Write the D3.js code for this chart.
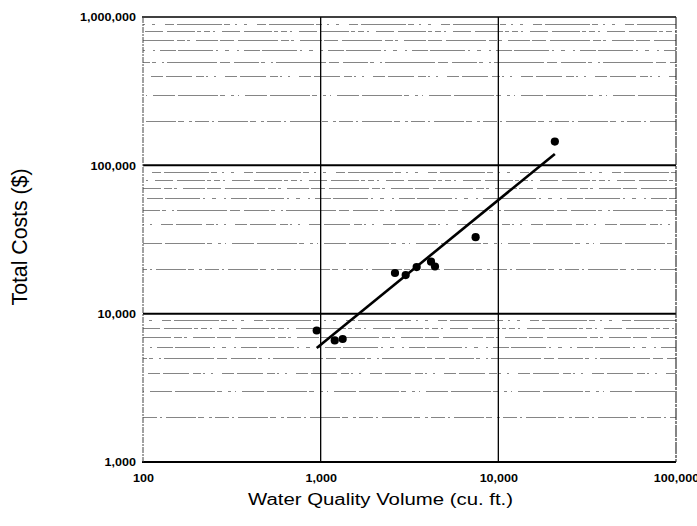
<!DOCTYPE html>
<html>
<head>
<meta charset="utf-8">
<script src="https://cdn.jsdelivr.net/npm/d3@7"></script>
<style>
  html, body { margin: 0; padding: 0; background: #fff; }
  svg { display: block; }
</style>
</head>
<body>
<svg id="chart" width="697" height="526"></svg>
<script>
// ---- data ----
const volume = [950, 1200, 1330, 2620, 3010, 3470, 4180, 4400, 7450, 20800];
const totalCost = [7700, 6600, 6750, 18800, 18200, 20600, 22400, 20800, 32800, 144500];
const trendVolume = [950, 20800];
const trendCost = [5860, 119400];
const xTickValues = [100, 1000, 10000, 100000];
const yTickValues = [1000, 10000, 100000, 1000000];
const xTitle = "Water Quality Volume (cu. ft.)";
const yTitle = "Total Costs ($)";

// ---- layout ----
const svg = d3.select("#chart");
const L = 143, R = 676, T = 17, B = 462;

const x = d3.scaleLog().domain([100, 100000]).range([L, R]);
const y = d3.scaleLog().domain([1000, 1000000]).range([B, T]);

const dashPatterns = [
  "14,3,2,4,30,2,6,5,3,3",
  "3,4,1,6,22,3,40,2,5,6",
  "2,6,2,9,12,3,26,4,8,2",
  "25,2,4,6,2,3,50,3,10,4",
  "4,8,2,5,16,2,35,3,2,7",
  "40,3,8,2,3,6,22,2,14,4",
  "6,3,2,7,18,4,28,2,4,3",
  "2,7,3,10,9,3,45,2,6,5"
];

// minor horizontal grid lines
const minor = y.ticks().filter(v => !yTickValues.includes(v));
svg.append("g").selectAll("line").data(minor).join("line")
  .attr("x1", L).attr("x2", R)
  .attr("y1", d => Math.round(y(d)) + 0.5).attr("y2", d => Math.round(y(d)) + 0.5)
  .attr("stroke", "#333").attr("stroke-opacity", 0.6).attr("stroke-width", 1)
  .attr("stroke-dasharray", (d, i) => dashPatterns[i % dashPatterns.length])
  .attr("stroke-dashoffset", (d, i) => (i * 7) % 23);

// major horizontal grid lines
svg.append("g").selectAll("line").data([10000, 100000]).join("line")
  .attr("x1", L).attr("x2", R)
  .attr("y1", d => y(d)).attr("y2", d => y(d))
  .attr("stroke", "#000").attr("stroke-width", 2);

// vertical grid lines
svg.append("g").selectAll("line").data([1000, 10000]).join("line")
  .attr("x1", d => x(d)).attr("x2", d => x(d))
  .attr("y1", T).attr("y2", B)
  .attr("stroke", "#000").attr("stroke-width", 1.3);

// border
svg.append("line").attr("x1", L - 1).attr("x2", R).attr("y1", T).attr("y2", T)
  .attr("stroke", "#000").attr("stroke-width", 1.6);
svg.append("line").attr("x1", L - 1).attr("x2", R).attr("y1", B).attr("y2", B)
  .attr("stroke", "#000").attr("stroke-width", 2);
svg.append("line").attr("x1", L).attr("x2", L).attr("y1", T).attr("y2", B)
  .attr("stroke", "#444").attr("stroke-width", 1).attr("stroke-dasharray", "6,1,2,1");
svg.append("line").attr("x1", R).attr("x2", R).attr("y1", T).attr("y2", B)
  .attr("stroke", "#222").attr("stroke-width", 1.1).attr("stroke-dasharray", "12,1,3,1");

// axes
function stretch(sel, k) {
  sel.each(function () {
    const w = this.getComputedTextLength();
    d3.select(this).attr("textLength", w * k).attr("lengthAdjust", "spacingAndGlyphs");
  });
}
const fmt = d3.format(",");
const yAxis = svg.append("g").attr("transform", `translate(${L},0)`)
  .call(d3.axisLeft(y).tickValues(yTickValues).tickFormat(fmt).tickSize(0).tickPadding(7));
const xAxis = svg.append("g").attr("transform", `translate(0,${B})`)
  .call(d3.axisBottom(x).tickValues(xTickValues).tickFormat(fmt).tickSize(0).tickPadding(13));
[yAxis, xAxis].forEach(g => {
  g.select(".domain").remove();
  g.selectAll("text")
    .attr("font-family", "Liberation Sans, Arial, sans-serif")
    .attr("font-size", 10.3).attr("font-weight", "bold").attr("fill", "#000");
});
yAxis.selectAll("text").attr("dy", "0.36em");
stretch(yAxis.selectAll("text"), 1.22);
stretch(xAxis.selectAll("text"), 1.22);

// trend line
const line = d3.line().x(d => x(d[0])).y(d => y(d[1]));
svg.append("path")
  .datum(trendVolume.map((v, i) => [v, trendCost[i]]))
  .attr("d", line).attr("fill", "none")
  .attr("stroke", "#000").attr("stroke-width", 2.6);

// points
svg.append("g").selectAll("circle")
  .data(volume.map((v, i) => [v, totalCost[i]]))
  .join("circle")
  .attr("cx", d => x(d[0])).attr("cy", d => y(d[1])).attr("r", 4.1)
  .attr("fill", "#000");

// titles
const xt = svg.append("text")
  .attr("x", (L + R) / 2 - 29).attr("y", 505)
  .attr("text-anchor", "middle")
  .attr("font-family", "Liberation Sans, Arial, sans-serif")
  .attr("font-size", 16).attr("fill", "#000")
  .text(xTitle);
xt.attr("textLength", 265).attr("lengthAdjust", "spacingAndGlyphs");

svg.append("text")
  .attr("transform", "translate(27,237) scale(1.3,1) rotate(-90)")
  .attr("text-anchor", "middle")
  .attr("font-family", "Liberation Sans, Arial, sans-serif")
  .attr("font-size", 16.5).attr("fill", "#000")
  .attr("textLength", 137).attr("lengthAdjust", "spacingAndGlyphs")
  .text(yTitle);
</script>
</body>
</html>
